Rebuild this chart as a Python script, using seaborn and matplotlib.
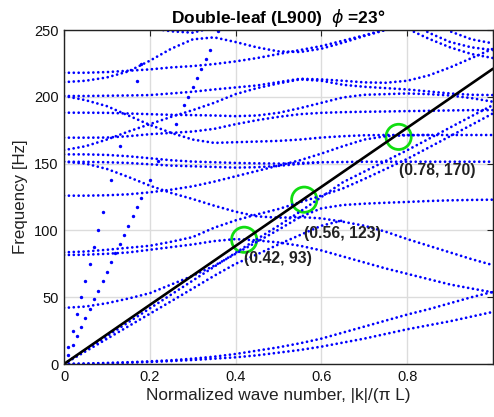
import numpy as np
import pandas as pd
import matplotlib
matplotlib.use("Agg")
import matplotlib.pyplot as plt
import seaborn as sns

# ---------------- data ----------------
K = [0.00, 0.05, 0.10, 0.15, 0.20, 0.25, 0.30, 0.35, 0.40, 0.45, 0.50,
     0.55, 0.60, 0.65, 0.70, 0.75, 0.80, 0.85, 0.90, 0.95, 1.00]
NA = None  # branch not drawn there (merged into a neighbour)

band_L1 = [0, 0.2, 0.5, 1.0, 1.5, 2.2, 3.0, 4.0, 5.0, 6.5, 8.5, 10.5, 13, 16, 19, 22.5, 26, 29, 32, 35.5, 39]
band_L2 = [0, 0.3, 0.8, 1.3, 2.0, 2.8, 4.0, 5.5, 7.5, 10, 12.5, 15.5, 19, 23.5, 28, 32.5, 37, 41, 45.5, 50, 54]
band_N1 = [0, 9.4, 18.8, 28.2, 37.6, 47, 56.5, 66, 75, 82, 89.5, 96.5, 103.5, 107.5, NA, NA, NA, NA, NA, NA, NA]
band_N0 = [0, 10.4, 20.8, 31.2, 41.6, 52, 62.4, 72.8, 83.2, 93.5, 103.5, 114, 125, 136, 144, 152, 160, 168.5, 177, 185.5, 193.8]
band_C42 = [42, 43, 45.5, 49, 53, 59.5, 66, 73.5, 82.5, 91.5, 100.5, 110, 116.5, 119, 120, 120.7, 121.3, 122, 122.5, 122.8, 123]
band_U84 = [83.6, 84.2, 85.5, 87, 88.5, 91.5, 95, 102, 107.5, 112, 116, 121, 126, 131.4, 138.5, 146, 153.5, 162, 170.5, 179, 187.6]
band_L82 = [81.6, 81.8, 82.5, 83.5, 85.5, 87.5, 89.5, 92, 93.5, 92.5, 91, 88.5, 85, 80.5, 76, 71.5, 67.5, 63.5, 59.5, 56.5, 53.6]
band_D151 = [151.4, 150, 146, 140, 133.5, 128, 123.5, 118.5, 114, 110.5, 109.5, 110, 109, 106.5, 103.5, 99, 93.5, 88.5, 83.5, 78.5, 74]
band_F126 = [126, 126, 126.3, 127, 128.5, 130.5, 133, 136.5, 140.5, 144.5, 148.5, 152.5, 157.5, 163, 168, 170.5, 171.2, 171.4, NA, NA, NA]
band_F157 = [156.9, 156.9, 156.5, 155.5, 154, 152.5, 151.5, 151, 150.5, 150.2, 150, 150.5, 151, 151.2, 151.4, 151.4, 151.4, 151.4, 151.4, 151.4, 151.4]
band_F151 = [151.4, 151.3, 151, 150.5, 149.5, 148.5, 148, 147.5, 147, 147.3, 148.3, 149.8, 151, NA, NA, NA, NA, NA, NA, NA, NA]
band_M4 = [169.4, 169.4, 169.5, 170.5, 172, 173, 174, 176, 179.5, 182.5, 185, 187, 188, 188.5, 188.8, 189, 189.3, 189.5, 189.8, 190, 190]
band_R160 = [160.1, 163, 168, 174, 179.5, 185, 190, 195.5, 202, 206.5, 210, 213, 212, 209, 207.5, 206.5, 205.5, 204, 202.5, 201.5, 201.3]
band_D200 = [200.6, 197.5, 193, 186, 179, 173, 168, 165.5, 166, 166.5, 167, 168, 169.5, 170.5, 171.2, 171.4, 171.4, 171.4, 171.4, 171.4, 171.4]
band_M3 = [188.1, 188.1, 188, 187.5, 187, 186.5, 186.3, 186, 185.5, 186, 188, 191.5, 195.5, 199.5, 201.5, 202, 202.5, 202, 201, 199, 196.3]
band_M1 = [200.6, 200.6, 200.8, 201, 201.3, 202.5, 203.8, 205.5, 207, 208.5, 211, 213.5, 213, 212, 210.8, 210.5, 212, 216, 222, 229, 236]
band_T1 = [211, 212, 214.5, 219, 227, 236, 243, 244.5, 241, 237, 234, 233.5, 236, 240.5, 245.5, 250, 255, 260, 265, 270, 275]
band_T2 = [218, 218, 218.5, 219.5, 220.5, 222, 223, 224.5, 226.5, 229, 232, 235, 238, 242, 246, 250.5, 255, 260, 265, 270, 275]
band_T3 = [320, 300, 280, 256, 251.5, 249, 248, 252, 262, 280, 300, 320, 340, 360, 380, 400, 420, 440, 460, 480, 500]
band_T4 = [400, 390, 380, 370, 360, 350, 340, 330, 320, 310, 300, 290, 280, 270, 290, 265, 251, 243.5, 237, 232, 229]
band_T5 = [400, 390, 380, 370, 360, 350, 340, 330, 320, 310, 300, 290, 280, 290, 300, 280, 258, 248, 241, 237, 235]
band_T6 = [400, 390, 380, 370, 360, 350, 340, 330, 320, 310, 300, 290, 280, 290, 300, 300, 275, 258, 249, 243, 240]

bands = {
    "L1": band_L1, "L2": band_L2, "N1": band_N1, "N0": band_N0, "C42": band_C42,
    "U84": band_U84, "L82": band_L82, "D151": band_D151, "F126": band_F126,
    "F157": band_F157, "F151": band_F151, "M4": band_M4, "R160": band_R160,
    "D200": band_D200, "M3": band_M3, "M1": band_M1, "T1": band_T1, "T2": band_T2,
    "T3": band_T3, "T4": band_T4, "T5": band_T5, "T6": band_T6,
}

# steep sparse branches (isolated dots)
steep1_k = [0.01, 0.02, 0.03, 0.04, 0.05, 0.06, 0.07, 0.08, 0.09, 0.10, 0.11, 0.12,
            0.13, 0.14, 0.15, 0.16, 0.17, 0.18, 0.20, 0.22, 0.26, 0.28, 0.29, 0.30,
            0.31, 0.32, 0.33, 0.34, 0.36]
steep1_f = [7, 14, 21, 28, 34.5, 41.5, 48.5, 55, 62, 69, 76, 83, 90, 96.5, 103.5, 110.5,
            117.5, 124, 138, 152, 180, 194, 200, 207, 214, 221, 228, 235, 249]
steep2_k = [0.01, 0.02, 0.03, 0.04, 0.05, 0.06, 0.07, 0.08, 0.09, 0.11, 0.13, 0.17, 0.18]
steep2_f = [12.5, 25, 37.5, 50, 62.5, 75, 87.5, 100, 113.5, 138, 163, 212, 224.5]

# sound line
line_k = [0.0, 1.0]
line_f = [0.0, 221.0]

# coincidence markers and their labels
circ_k = [0.42, 0.56, 0.78]
circ_f = [93, 123, 170]
circ_lab = ["(0.42, 93)", "(0.56, 123)", "(0.78, 170)"]
lab_dy = [13.7, 25.0, 25.5]

x_ticks = [0, 0.2, 0.4, 0.6, 0.8, 1.0]
x_ticklabels = ["0", "0.2", "0.4", "0.6", "0.8", ""]
y_ticks = [0, 50, 100, 150, 200, 250]

# ---------------- figure ----------------
sns.set_theme(style="white")
plt.rcParams["font.family"] = ["Liberation Sans", "DejaVu Sans"]
plt.rcParams["mathtext.fontset"] = "dejavusans"
plt.rcParams["text.color"] = "black"

W, H = 494, 417
fig = plt.figure(figsize=(W / 100, H / 100), dpi=100)
ax = fig.add_axes([64 / W, 1 - 364 / H, (493 - 64) / W, (364 - 30) / H])

rows = []
for name, vals in bands.items():
    for k, f in zip(K, vals):
        if f is not None:
            rows.append((name, k, f))
df = pd.DataFrame(rows, columns=["band", "k", "f"])

sns.lineplot(data=df, x="k", y="f", units="band", estimator=None, sort=False,
             color="#0000ff", linewidth=2.0, linestyle=(0, (0.01, 1.75)),
             dash_capstyle="round", ax=ax, legend=False)

steep = pd.DataFrame({"k": steep1_k + steep2_k, "f": steep1_f + steep2_f})
sns.scatterplot(data=steep, x="k", y="f", color="#0000ff", s=6, linewidth=0, ax=ax, legend=False)

sns.lineplot(x=line_k, y=line_f, color="black", linewidth=1.9, ax=ax, legend=False)

sns.scatterplot(x=circ_k, y=circ_f, s=330, marker="o", ax=ax, legend=False,
                color="#00e000", linewidth=2.0)
coll = ax.collections[-1]
coll.set_facecolor("none")
coll.set_edgecolor("#11dd11")

for k, f, t, dy in zip(circ_k, circ_f, circ_lab, lab_dy):
    ax.text(k, f - dy, t, ha="left", va="center", fontsize=11.3, fontweight="bold",
            color="#222222")

ax.set_xlim(0, 1)
ax.set_ylim(0, 250)
ax.set_xticks(x_ticks)
ax.set_xticklabels(x_ticklabels)
ax.set_yticks(y_ticks)
ax.grid(True, color="#dcdcdc", linewidth=1.0)
ax.set_axisbelow(True)
for s in ax.spines.values():
    s.set_color("#222222")
    s.set_linewidth(1.0)
ax.tick_params(direction="in", top=True, right=True, length=4, width=0.8,
               labelsize=10.5, colors="#222222", labelcolor="#111111", pad=4)
ax.set_xlabel("Normalized wave number, |k|/(\u03c0 L)", fontsize=12.4, color="#222222", labelpad=3)
ax.set_ylabel("Frequency [Hz]", fontsize=12.2, color="#222222", labelpad=4)
ax.set_title("Double-leaf (L900)  $\\phi$ =23\u00b0", fontsize=12.5, fontweight="bold",
             color="black", pad=5)

fig.savefig("out.png", dpi=100)
